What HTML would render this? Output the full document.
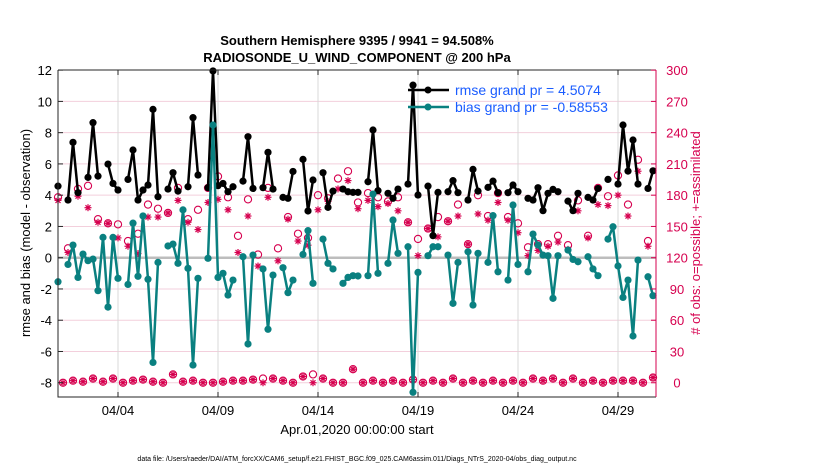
<!DOCTYPE html>
<html><head><meta charset="utf-8"><style>
body{margin:0;background:#fff;}
svg{display:block;font-family:"Liberation Sans",Arial,sans-serif;}
</style></head><body>
<svg id="chart" width="830" height="470" viewBox="0 0 830 470">
<rect width="830" height="470" fill="#fff"/>
<g id="grid"></g><g id="marks"></g><g id="axes"></g>
<text x="357" y="45" text-anchor="middle" font-size="13" font-weight="bold">Southern Hemisphere 9395 / 9941 = 94.508%</text>
<text x="357" y="62" text-anchor="middle" font-size="13" font-weight="bold">RADIOSONDE_U_WIND_COMPONENT @ 200 hPa</text>
<text x="357" y="434" text-anchor="middle" font-size="13">Apr.01,2020 00:00:00 start</text>
<text transform="translate(30,233) rotate(-90)" text-anchor="middle" font-size="13">rmse and bias (model - observation)</text>
<text transform="translate(700,233) rotate(-90)" text-anchor="middle" font-size="13" fill="#d6004f"># of obs: o=possible; +=assimilated</text>
<text x="357" y="461" text-anchor="middle" font-size="7">data file: /Users/raeder/DAI/ATM_forcXX/CAM6_setup/f.e21.FHIST_BGC.f09_025.CAM6assim.011/Diags_NTrS_2020-04/obs_diag_output.nc</text>
<g>
<line x1="408" y1="90" x2="449" y2="90" stroke="#000" stroke-width="2.5"/>
<circle cx="428" cy="90" r="3.5" fill="#000"/>
<text x="455" y="95" font-size="14" fill="#1a5cff">rmse grand pr = 4.5074</text>
<line x1="408" y1="107" x2="449" y2="107" stroke="#0a8080" stroke-width="2.5"/>
<circle cx="428" cy="107" r="3.5" fill="#0a8080"/>
<text x="455" y="112" font-size="14" fill="#1a5cff">bias grand pr = -0.58553</text>
</g>
</svg>
<script>
const N = 120;
const rmsePts = [[0,4.58],[2,3.69],[3,7.38],[4,4.16],[6,5.14],[7,8.64],[8,5.22],[10,5.99],[11,4.75],[12,4.33],[14,5.01],[15,6.89],[16,3.69],[17,4.33],[18,4.65],[19,9.49],[20,3.9],[22,4.39],[23,5.44],[24,4.26],[26,4.54],[27,8.96],[28,5.29],[30,4.48],[31,11.95],[32,4.61],[33,4.75],[34,4.22],[35,4.54],[37,4.9],[38,7.74],[39,4.43],[41,4.48],[42,6.74],[43,4.39],[45,3.86],[46,3.8],[47,5.52],[49,6.29],[50,2.99],[51,4.97],[53,5.44],[54,3.22],[55,4.26],[57,4.39],[58,4.22],[59,4.18],[60,4.18],[62,4.86],[63,8.17],[64,4.29],[66,4.12],[67,3.8],[68,4.39],[70,4.71],[71,11.04],[72,4.01],[74,4.58],[75,1.41],[76,4.18],[78,4.22],[79,4.93],[80,4.16],[82,3.69],[83,5.65],[84,4.26],[86,4.5],[87,4.9],[88,4.16],[90,4.16],[91,4.65],[92,4.22],[94,3.8],[95,3.69],[96,4.48],[97,3.01],[98,4.12],[99,4.37],[100,4.22],[102,3.62],[103,3.01],[104,4.12],[106,3.86],[107,3.69],[108,4.43],[110,5.01],[112,4.71],[113,8.49],[114,5.54],[115,7.53],[116,4.71],[118,4.43],[119,5.56]];
const biasPts = [[0,-1.54],[2,-0.43],[3,0.81],[4,-1.26],[5,0.23],[6,-0.19],[7,-0.09],[8,-2.11],[9,1.3],[10,-3.16],[11,1.3],[12,-1.32],[14,-1.71],[15,2.21],[16,-1.19],[17,2.67],[18,-1.38],[19,-6.7],[20,-0.3],[22,0.75],[23,0.87],[24,-0.36],[25,3.06],[26,-0.68],[27,-6.87],[28,-1.32],[30,-0.04],[31,8.49],[32,-1.26],[33,-1.0],[34,-2.39],[35,-1.43],[37,0.06],[38,-5.52],[39,0.17],[41,-0.72],[42,-4.58],[43,-1.11],[45,-0.64],[46,-2.24],[47,-1.43],[49,0.21],[50,1.73],[51,-1.64],[53,1.19],[54,-0.36],[55,-0.72],[57,-1.64],[58,-1.26],[59,-1.15],[60,-1.17],[62,-1.15],[63,4.07],[64,-1.0],[66,-0.36],[67,2.41],[68,0.28],[70,0.7],[71,-8.61],[72,-0.94],[74,0.13],[75,0.7],[76,0.7],[78,0.17],[79,-2.92],[80,-0.3],[82,0.38],[83,-3.03],[84,0.28],[86,-0.3],[87,2.69],[88,-0.9],[90,-1.43],[91,3.37],[92,-0.43],[94,-0.9],[95,1.51],[96,0.81],[97,0.17],[98,0.13],[99,-2.6],[100,0.13],[102,0.49],[103,-0.11],[104,-0.26],[106,0.06],[107,-0.72],[108,-1.15],[110,1.19],[111,1.98],[112,-0.53],[113,-2.54],[114,-1.43],[115,-5.01],[116,-0.15],[118,-1.22],[119,-2.43]];
const possEven = [178,129,186,189,157,153,152,136,143,171,167,163,187,157,166,187,198,178,141,176,123,187,129,159,143,139,180,177,196,203,173,182,178,174,178,154,138,148,159,155,171,133,180,160,182,159,153,130,133,133,141,132,175,141,187,179,199,171,214,136];
const assimEven = [175,125,179,168,154,153,139,131,124,159,159,163,175,154,147,173,176,166,125,160,112,178,117,157,136,132,166,174,186,194,167,175,169,172,165,154,122,148,140,155,160,133,162,156,173,156,144,122,127,131,135,128,165,139,171,170,180,160,203,131];
const possOdd = [0,2,1,4,1,4,0,2,3,1,0,8,1,2,0,0,1,2,2,3,4,4,2,0,6,8,4,0,0,13,0,2,0,2,0,3,0,2,0,4,0,2,0,2,0,2,0,4,2,4,0,4,0,2,0,2,2,2,0,5];
const assimOdd = [0,2,1,4,1,4,0,2,3,1,0,8,1,2,0,0,1,2,2,3,0,4,2,0,6,0,4,0,0,13,0,2,0,2,0,3,0,2,0,4,0,2,0,2,0,2,0,4,2,4,0,4,0,2,0,2,2,2,0,5];
const yTicks = [-8,-6,-4,-2,0,2,4,6,8,10,12];
const rTicks = [0,30,60,90,120,150,180,210,240,270,300];
const xTickLabels = ['04/04','04/09','04/14','04/19','04/24','04/29'];
const xTickBins = [12,32,52,72,92,112];

const L=58,R=656,T=70,B=397;
const x = i => 58 + 5*i;
const y = v => 257.7 - 15.63*v;
const yc = c => y(c/15 - 8);
const NS='http://www.w3.org/2000/svg';
function mk(p,t,a){const e=document.createElementNS(NS,t);for(const k in a)e.setAttribute(k,a[k]);p.appendChild(e);return e;}
const grid=document.getElementById('grid'),marks=document.getElementById('marks'),axes=document.getElementById('axes');

yTicks.forEach(v=>{ if(v!==0&&v!==12){const g=mk(grid,'line',{x1:L,x2:R,y1:y(v),y2:y(v),stroke:'#f3cfdc','stroke-width':1});

}});
xTickBins.forEach(b=>{const g=mk(grid,'line',{x1:x(b),x2:x(b),y1:T,y2:B,stroke:'#d8d8d8','stroke-width':1});

});
const zl=mk(grid,'line',{x1:L,x2:R,y1:y(0),y2:y(0),stroke:'#bdbdbd','stroke-width':2.5});



function series(pts,color,name){
  let seg=[];const segs=[];
  for(let k=0;k<pts.length;k++){ if(k>0&&pts[k][0]!==pts[k-1][0]+1){segs.push(seg);seg=[];} seg.push(pts[k]); }
  segs.push(seg);
  segs.forEach(s=>{ if(s.length>1){const p=mk(marks,'polyline',{points:s.map(d=>x(d[0])+','+y(d[1])).join(' '),fill:'none',stroke:color,'stroke-width':2.5,'stroke-linejoin':'round'});
    
    }});
  pts.forEach(d=>{const c=mk(marks,'circle',{cx:x(d[0]),cy:y(d[1]),r:3.6,fill:color});
    
    });
}
function star(cx,cy){const g=mk(marks,'g',{stroke:'#d6004f','stroke-width':1.2});
  
  
  mk(g,'line',{x1:cx-3.5,x2:cx+3.5,y1:cy,y2:cy});mk(g,'line',{x1:cx,x2:cx,y1:cy-3.5,y2:cy+3.5});
  mk(g,'line',{x1:cx-2.5,x2:cx+2.5,y1:cy-2.5,y2:cy+2.5});mk(g,'line',{x1:cx-2.5,x2:cx+2.5,y1:cy+2.5,y2:cy-2.5});}
function ring(cx,cy){const c=mk(marks,'circle',{cx:cx,cy:cy,r:3.6,fill:'none',stroke:'#d6004f','stroke-width':1.1});
  
  }
possEven.forEach((c,k)=>{ring(x(2*k),yc(c));star(x(2*k),yc(assimEven[k]));});
possOdd.forEach((c,k)=>{ring(x(2*k+1),yc(c));star(x(2*k+1),yc(assimOdd[k]));});
series(rmsePts,'#000','rmse');
series(biasPts,'#0a8080','bias');

const fr=mk(axes,'path',{d:`M${L},${T}H${R}M${L},${T}V${B}H${R}`,fill:'none',stroke:'#262626','stroke-width':1});


const ra=mk(axes,'line',{x1:R,x2:R,y1:T,y2:B,stroke:'#d6004f','stroke-width':1});


yTicks.forEach(v=>{mk(axes,'line',{x1:L,x2:L+5,y1:y(v),y2:y(v),stroke:'#262626'});
  const t=mk(axes,'text',{x:L-6,y:y(v)+5,'text-anchor':'end','font-size':13});t.textContent=v;
  
  });
rTicks.forEach(c=>{mk(axes,'line',{x1:R-5,x2:R,y1:yc(c),y2:yc(c),stroke:'#d6004f'});
  const t=mk(axes,'text',{x:R+21,y:yc(c)+5,'text-anchor':'middle','font-size':13,fill:'#d6004f'});t.textContent=c;
  
  });
xTickBins.forEach((b,k)=>{mk(axes,'line',{x1:x(b),x2:x(b),y1:B,y2:B-5,stroke:'#262626'});mk(axes,'line',{x1:x(b),x2:x(b),y1:T,y2:T+5,stroke:'#262626'});
  const t=mk(axes,'text',{x:x(b),y:B+18,'text-anchor':'middle','font-size':13});t.textContent=xTickLabels[k];
  
  });
</script>
</body></html>
